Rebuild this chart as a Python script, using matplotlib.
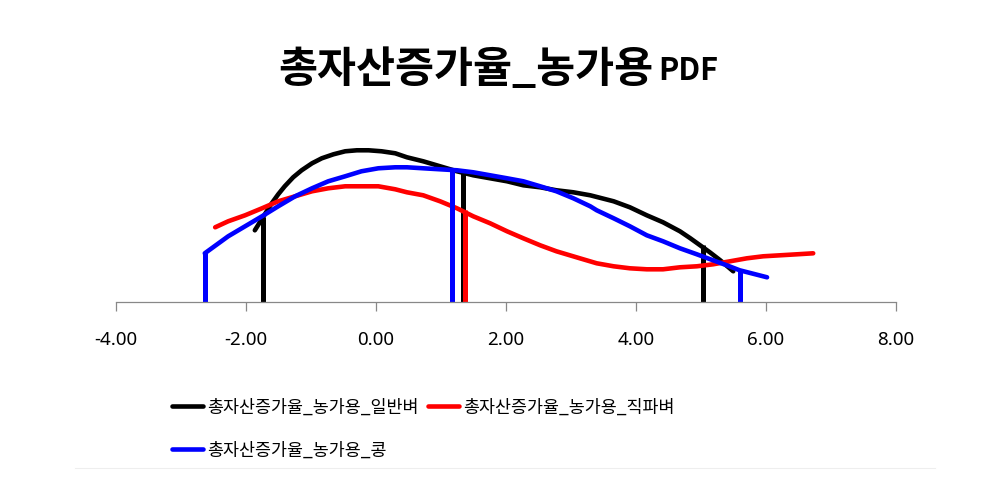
import matplotlib
matplotlib.use("Agg")
import matplotlib.pyplot as plt
from matplotlib.lines import Line2D

plt.rcParams['font.family'] = ['Noto Sans CJK KR', 'DejaVu Sans']

# PDF curves (x, density in arbitrary units)
ilban_x = [-1.86, -1.60, -1.50, -1.40, -1.27, -1.14, -0.98, -0.83, -0.65, -0.47, -0.29,
           -0.11, 0.09, 0.30, 0.48, 0.73, 0.99, 1.25, 1.50, 1.76, 2.02, 2.27, 2.53,
           2.78, 3.04, 3.30, 3.66, 3.91, 4.17, 4.42, 4.68, 4.84, 4.99, 5.14, 5.30, 5.50]
ilban_y = [0.072, 0.099, 0.108, 0.116, 0.125, 0.132, 0.139, 0.144, 0.148, 0.151, 0.152,
           0.152, 0.151, 0.149, 0.145, 0.141, 0.136, 0.131, 0.127, 0.124, 0.121, 0.117, 0.115,
           0.112, 0.110, 0.107, 0.101, 0.095, 0.087, 0.080, 0.071, 0.064, 0.057, 0.050, 0.042, 0.031]

jikpa_x = [-2.47, -2.27, -2.01, -1.75, -1.50, -1.24, -0.98, -0.73, -0.47, -0.22, 0.04,
           0.30, 0.48, 0.73, 0.99, 1.25, 1.50, 1.76, 2.02, 2.27, 2.53, 2.78, 3.14,
           3.40, 3.66, 3.91, 4.17, 4.42, 4.68, 4.94, 5.19, 5.45, 5.71, 5.96, 6.22, 6.48, 6.73]
jikpa_y = [0.075, 0.081, 0.087, 0.094, 0.101, 0.106, 0.111, 0.114, 0.116, 0.116, 0.116,
           0.113, 0.110, 0.107, 0.101, 0.094, 0.086, 0.079, 0.071, 0.064, 0.057, 0.051, 0.044,
           0.039, 0.036, 0.034, 0.033, 0.033, 0.035, 0.036, 0.038, 0.041, 0.044, 0.046, 0.047, 0.048, 0.049]

kong_x = [-2.63, -2.27, -2.01, -1.75, -1.50, -1.24, -0.98, -0.73, -0.47, -0.22, 0.04,
          0.30, 0.48, 0.73, 0.99, 1.25, 1.50, 1.76, 2.02, 2.27, 2.53, 2.78, 3.04,
          3.30, 3.40, 3.66, 3.91, 4.17, 4.42, 4.68, 4.94, 5.19, 5.40, 5.60, 6.02]
kong_y = [0.049, 0.066, 0.076, 0.086, 0.096, 0.106, 0.114, 0.121, 0.126, 0.131, 0.134,
          0.135, 0.135, 0.134, 0.133, 0.132, 0.130, 0.127, 0.124, 0.121, 0.116, 0.111, 0.104,
          0.096, 0.092, 0.084, 0.076, 0.067, 0.061, 0.054, 0.048, 0.042, 0.037, 0.032, 0.025]

# vertical marker lines (position, height)
ilban_vx = [-1.73, 1.35, 5.03]
ilban_vh = [0.085, 0.130, 0.057]
jikpa_vx = [1.38]
jikpa_vh = [0.092]
kong_vx = [-2.63, 1.18, 5.60]
kong_vh = [0.049, 0.133, 0.032]

labels = ['총자산증가율_농가용_일반벼', '총자산증가율_농가용_직파벼', '총자산증가율_농가용_콩']
colors = ['black', 'red', 'blue']
xticks = [-4, -2, 0, 2, 4, 6, 8]

fig = plt.figure(figsize=(9.9, 4.8), dpi=100)
ax = fig.add_axes([0.1169, 0.3702, 0.7879, 0.3590])

curves = [(ilban_x, ilban_y), (jikpa_x, jikpa_y), (kong_x, kong_y)]
vlines = [(ilban_vx, ilban_vh), (jikpa_vx, jikpa_vh), (kong_vx, kong_vh)]

handles = []
for (cx, cy), (vx, vh), col, lab in zip(curves, vlines, colors, labels):
    ln, = ax.plot(cx, cy, color=col, lw=3.3, solid_capstyle='round',
                  solid_joinstyle='round', label=lab)
    ax.vlines(vx, 0, vh, color=col, lw=3.6)
    handles.append(ln)

ax.set_xlim(-4, 8)
ax.set_ylim(0, 0.1723)
ax.set_xticks(xticks)
ax.set_xticklabels(['%.2f' % t for t in xticks], fontsize=13.5, family=['Noto Sans', 'DejaVu Sans'])
ax.tick_params(axis='x', direction='out', length=6.5, width=0.9, color='#888888', pad=14)
ax.set_yticks([])
for s in ['top', 'right', 'left']:
    ax.spines[s].set_visible(False)
ax.spines['bottom'].set_color('#888888')
ax.spines['bottom'].set_linewidth(0.9)

# title
fig.text(653 / 990, 1 - 82 / 480, '총자산증가율_농가용', ha='right', va='baseline',
         fontsize=30.5, fontweight='bold')
fig.text(658 / 990, 1 - 80 / 480, 'PDF', ha='left', va='baseline',
         fontsize=22, fontweight='bold')

# legend: order so that row 1 = black, red ; row 2 = blue
order = [0, 2, 1]
fig.legend([handles[i] for i in order], [labels[i] for i in order],
           ncol=2, loc='upper left', bbox_to_anchor=(0.1737, 0.170),
           frameon=False, borderpad=0, borderaxespad=0, fontsize=12.5,
           handlelength=1.8, handletextpad=0.25, columnspacing=0.5, labelspacing=1.45)

# faint frame line at bottom
fig.add_artist(Line2D([75 / 990, 935 / 990], [1 - 468 / 480, 1 - 468 / 480],
                      color='#eeeeee', lw=0.8, transform=fig.transFigure))

fig.savefig('out.png', dpi=100)
